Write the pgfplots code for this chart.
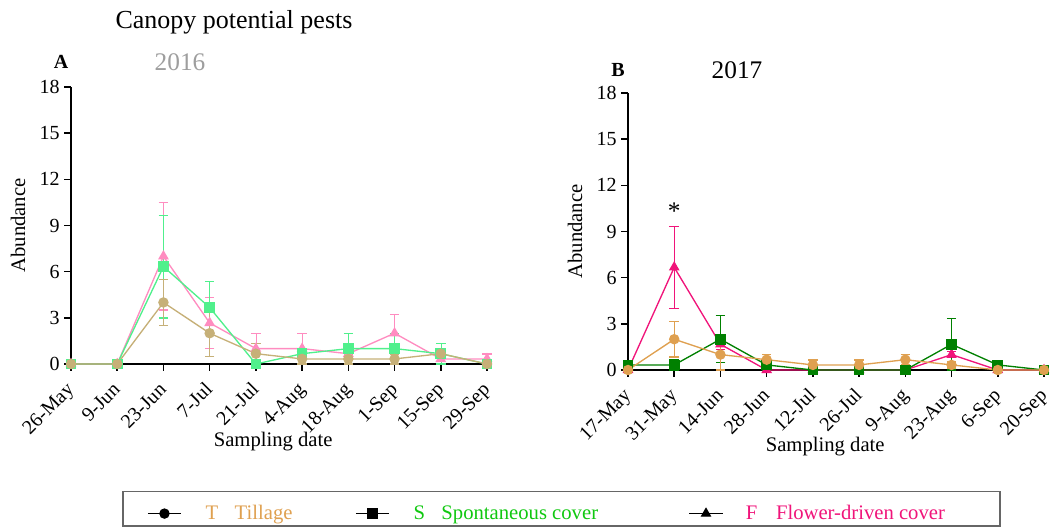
\documentclass[border=0pt]{standalone}
\usepackage{pgfplots}
\pgfplotsset{compat=1.18}
\usepackage{fontspec}
\setmainfont{Liberation Serif}
\definecolor{tA}{HTML}{C6B078}
\definecolor{sA}{HTML}{50F08C}
\definecolor{fA}{HTML}{FF8CC0}
\definecolor{tB}{HTML}{DFA050}
\definecolor{sB}{HTML}{008000}
\definecolor{fB}{HTML}{F0147A}
\definecolor{legT}{HTML}{DFA050}
\definecolor{legS}{HTML}{10C810}
\definecolor{legF}{HTML}{F0147A}
\pgfplotsset{
  panel/.style={
    scale only axis, width=312pt, height=207.75pt,
    axis lines=left, axis line style={-, line width=1.3pt, black},
    xmin=0, xmax=9, ymin=0, ymax=18,
    xtick={0,...,9}, ytick={0,3,...,18},
    tick align=outside, major tick length=5pt,
    tick style={line width=1.2pt, black},
    /pgf/number format/assume math mode=true,
    yticklabel style={font=\fontsize{15}{17}\selectfont},
    xticklabel style={font=\fontsize{15}{17}\selectfont, yshift=-15pt, xshift=3pt, rotate=45, anchor=base east, inner sep=0pt},
    label style={font=\fontsize{15.5}{17}\selectfont},
    clip=false,
    every axis plot/.append style={line width=1pt},
    error bars/y dir=both, error bars/y explicit,
    error bars/error mark options={rotate=90, mark size=3.6pt, line width=1pt},
  },
  tser/.style={color=#1, mark=*, mark size=3.4pt, mark options={fill=#1, solid}},
  sser/.style={color=#1, mark=square*, mark size=3.5pt, mark options={fill=#1, solid}},
  fser/.style={color=#1, mark=triangle*, mark size=3.7pt, mark options={fill=#1, solid}},
}
\begin{document}
\begin{tikzpicture}
% Panel A
\begin{axis}[panel, at={(53.25pt,-273pt)}, anchor=south west,
  xticklabels={26-May,9-Jun,23-Jun,7-Jul,21-Jul,4-Aug,18-Aug,1-Sep,15-Sep,29-Sep},
  xlabel={Sampling date}, ylabel={Abundance},
  xlabel style={at={(axis description cs:0.486,-0.28)}, anchor=center},
  ylabel style={at={(axis description cs:-0.127,0.5)}, anchor=center, rotate=0},
  legend columns=3,
  legend style={draw=none, fill=none, at={(0.1827,-0.54)}, anchor=west,
    inner sep=0pt, font=\fontsize{15.5}{17}\selectfont,
    /tikz/every even column/.append style={column sep=45pt}},
  legend image code/.code={\draw[mark repeat=2,mark phase=2] plot coordinates {(0pt,0pt)(12.4pt,0pt)(24.8pt,0pt)};},
]
\addplot+[fser=fA, forget plot] table[x=x, y=y, y error=e] {
x y e
0 0 0
1 0 0
2 7 3.5
3 2.67 1.67
4 1 1
5 1 1
6 0.67 0.67
7 2 1.2
8 0.33 0.33
9 0.33 0.33
};
\addplot+[sser=sA, forget plot] table[x=x, y=y, y error=e] {
x y e
0 0 0
1 0 0
2 6.33 3.33
3 3.67 1.7
4 0 0
5 0.67 0.33
6 1 1
7 1 1
8 0.67 0.67
9 0 0
};
\addplot+[tser=tA, forget plot] table[x=x, y=y, y error=e] {
x y e
0 0 0
1 0 0
2 4 1.5
3 2 1.5
4 0.67 0.67
5 0.33 0.33
6 0.33 0.33
7 0.33 0.33
8 0.67 0.33
9 0 0
};
\addlegendimage{black, line width=1pt, mark=*, mark size=3.4pt}
\addlegendentry{\kern16pt\textcolor{legT}{T\kern12.3pt Tillage}}
\addlegendimage{black, line width=1pt, mark=square*, mark size=3.5pt}
\addlegendentry{\kern16pt\textcolor{legS}{S\kern12.3pt Spontaneous cover}\kern21pt}
\addlegendimage{black, line width=1pt, mark=triangle*, mark size=3.7pt}
\addlegendentry{\kern15pt\textcolor{legF}{F\kern14pt Flower-driven cover}}
\end{axis}
% Panel B
\begin{axis}[panel, at={(471pt,-277.5pt)}, anchor=south west,
  xticklabels={17-May,31-May,14-Jun,28-Jun,12-Jul,26-Jul,9-Aug,23-Aug,6-Sep,20-Sep},
  xlabel={Sampling date}, ylabel={Abundance},
  xlabel style={at={(axis description cs:0.474,-0.277)}, anchor=center},
  ylabel style={at={(axis description cs:-0.127,0.5)}, anchor=center, rotate=0},
]
\addplot+[fser=fB] table[x=x, y=y, y error=e] {
x y e
0 0 0
1 6.67 2.67
2 1.67 0.33
3 0 0
4 0 0
5 0 0
6 0 0
7 1 0.2
8 0 0
9 0 0
};
\addplot+[sser=sB] table[x=x, y=y, y error=e] {
x y e
0 0.33 0.2
1 0.33 0.33
2 2 1.53
3 0.33 0.33
4 0 0
5 0 0
6 0 0
7 1.67 1.67
8 0.33 0.2
9 0 0
};
\addplot+[tser=tB] table[x=x, y=y, y error=e] {
x y e
0 0 0
1 2 1.15
2 1 1
3 0.67 0.33
4 0.33 0.33
5 0.33 0.33
6 0.67 0.33
7 0.33 0.2
8 0 0
9 0 0
};
\node[font=\fontsize{19}{19}\selectfont] at (axis cs:1,10.3) {*};
\end{axis}
\node[font=\fontsize{19.5}{21}\selectfont] at (175.5pt,-16.5pt) {Canopy potential pests};
\node[font=\bfseries\fontsize{15}{17}\selectfont] at (45.75pt,-46.5pt) {A};
\node[font=\fontsize{19}{21}\selectfont, text=black!38] at (135pt,-46.5pt) {2016};
\node[font=\bfseries\fontsize{15}{17}\selectfont] at (463.5pt,-52.5pt) {B};
\node[font=\fontsize{19}{21}\selectfont] at (552.75pt,-52.5pt) {2017};
\draw[black!60, line width=0.8pt] (92.25pt,-368.5pt) rectangle (750pt,-394.5pt);
\pgfresetboundingbox
\path (0pt,0pt) rectangle (789pt,-395.25pt);
\end{tikzpicture}
\end{document}
